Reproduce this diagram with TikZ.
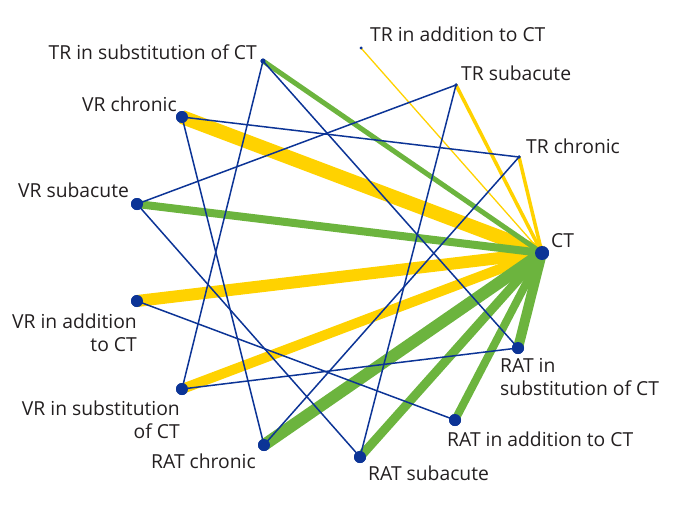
\documentclass[tikz,border=0pt]{standalone}
\usepackage{fontspec}
\setmainfont{Open Sans}
\definecolor{ny}{RGB}{255,210,0}
\definecolor{ng}{RGB}{108,180,62}
\definecolor{nb}{RGB}{12,52,150}
\definecolor{tx}{RGB}{35,31,32}
\begin{document}
\begin{tikzpicture}[x=1pt,y=-1pt,
  dot/.style={circle,fill=nb,inner sep=0pt,minimum size=#1},
  lbl/.style={font=\fontsize{19.3}{22.5}\selectfont,text=tx,inner sep=0pt,align=#1},
  ye/.style={draw=ny,line width=#1},
  ge/.style={draw=ng,line width=#1},
  be/.style={draw=nb,line width=1.5}]
\useasboundingbox (0,0) rectangle (677,509);
% nodes
\node[dot=5] (trs) at (263,61) {};
\node[dot=3] (tra) at (361,48) {};
\node[dot=3.5] (trsa) at (456,85) {};
\node[dot=3.5] (trc) at (519,157) {};
\node[dot=14] (ct) at (542,253) {};
\node[dot=12] (rats) at (518,348) {};
\node[dot=12] (rata) at (455,420) {};
\node[dot=12] (ratsa) at (360,457) {};
\node[dot=12] (ratc) at (264,445) {};
\node[dot=12] (vrs) at (182,389) {};
\node[dot=12] (vra) at (137,301) {};
\node[dot=12] (vrsa) at (137,204) {};
\node[dot=12] (vrc) at (182,117) {};
% edges
\path[ye=1.3] (ct.center) -- (tra.center);
\path[ye=3.5] (ct.center) -- (trsa.center);
\path[ye=3.5] (ct.center) -- (trc.center);
\path[ye=14] (ct.center) -- (vrc.center);
\path[ye=12] (ct.center) -- (vra.center);
\path[ye=10] (ct.center) -- (vrs.center);
\path[ge=5] (ct.center) -- (trs.center);
\path[ge=8] (ct.center) -- (vrsa.center);
\path[ge=12] (ct.center) -- (ratc.center);
\path[ge=9] (ct.center) -- (ratsa.center);
\path[ge=8] (ct.center) -- (rata.center);
\path[ge=10] (ct.center) -- (rats.center);
\path[be] (trs.center) -- (vrs.center);
\path[be] (trs.center) -- (rats.center);
\path[be] (vrc.center) -- (trc.center);
\path[be] (vrc.center) -- (ratc.center);
\path[be] (vrsa.center) -- (trsa.center);
\path[be] (vrsa.center) -- (ratsa.center);
\path[be] (vra.center) -- (rata.center);
\path[be] (vrs.center) -- (rats.center);
\path[be] (trsa.center) -- (ratsa.center);
\path[be] (trc.center) -- (ratc.center);
% redraw dots on top
\foreach \n/\s in {trs/5,tra/3,trsa/3.5,trc/3.5,ct/14,rats/12,rata/12,ratsa/12,ratc/12,vrs/12,vra/12,vrsa/12,vrc/12}
  \fill[nb] (\n.center) circle (\s/2);
% labels
\node[lbl=right,anchor=east] (ltrs) at (257,52) {TR in substitution of CT};
\node[lbl=left,anchor=west] (ltra) at (370,34) {TR in addition to CT};
\node[lbl=left,anchor=west] (ltrsa) at (461,73) {TR subacute};
\node[lbl=left,anchor=west] (ltrc) at (526,146) {TR chronic};
\node[lbl=left,anchor=west] (lct) at (551,241) {CT};
\node[lbl=left,anchor=west] (lrats) at (500,377) {RAT in\\substitution of CT};
\node[lbl=left,anchor=west] (lrata) at (447,439) {RAT in addition to CT};
\node[lbl=left,anchor=west] (lratsa) at (368,473) {RAT subacute};
\node[lbl=right,anchor=east] (lratc) at (256,461) {RAT chronic};
\node[lbl=right,anchor=east] (lvrs) at (180,420) {VR in substitution\\of CT};
\node[lbl=right,anchor=east] (lvra) at (137,333) {VR in addition\\to CT};
\node[lbl=left,anchor=west] (lvrsa) at (18,190) {VR subacute};
\node[lbl=left,anchor=west] (lvrc) at (82,104) {VR chronic};
\end{tikzpicture}
\end{document}
